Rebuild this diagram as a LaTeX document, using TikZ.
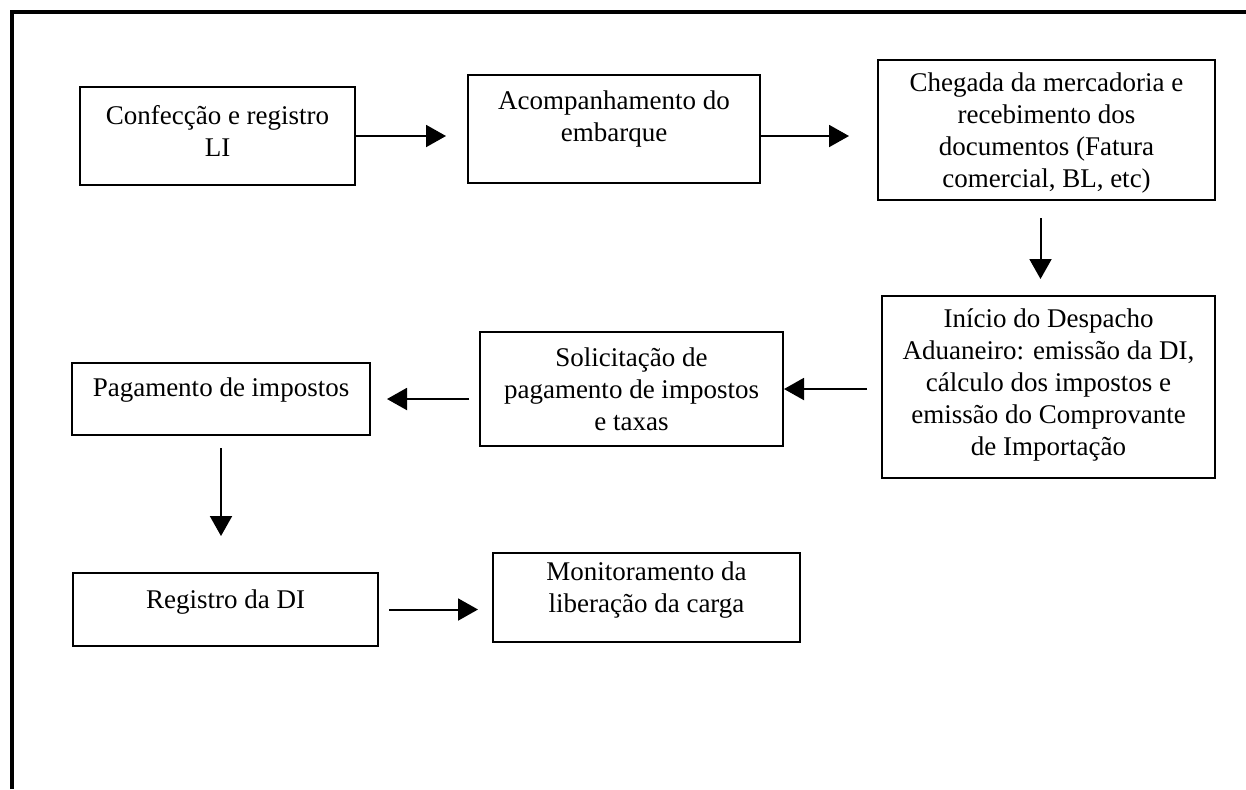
\documentclass[tikz,border=0pt]{standalone}
\usepackage{fontspec}
\setmainfont{Liberation Serif}
\usetikzlibrary{arrows.meta}

\begin{document}
\begin{tikzpicture}[x=0.5pt,y=-0.5pt,
		caixa/.style={draw, line width=1pt, align=center, inner sep=0pt,
			font=\fontsize{13.5}{16}\selectfont},
		seta/.style={-{Triangle[length=10pt,width=11pt]}, line width=1pt}]
		\useasboundingbox (0,0) rectangle (1246,789);
		\draw[line width=1.8pt] (12,789) -- (12,12) -- (1246,12);
		% linha de cima
		\node[caixa, minimum width=137.5pt, minimum height=49pt, text depth=5pt] (conf) at (217.5,136) {Confecção e registro\\LI};
		\node[caixa, minimum width=146pt, minimum height=54pt, text depth=13pt] (acomp) at (614,129) {Acompanhamento do\\embarque};
		\node[caixa, minimum width=168.5pt, minimum height=70pt, text depth=-5pt] (cheg) at (1046.5,130) {Chegada da mercadoria e\\recebimento dos\\documentos (Fatura\\comercial, BL, etc)};
		% linha do meio
		\node[caixa, minimum width=166.5pt, minimum height=91pt, text depth=4.5pt] (inicio) at (1048.5,387) {Início do Despacho\\Aduaneiro: emissão da DI,\\cálculo dos impostos e\\emissão do Comprovante\\de Importação};
		\node[caixa, minimum width=151.5pt, minimum height=57pt] (solic) at (631.5,389) {Solicitação de\\pagamento de impostos\\e taxas};
		\node[caixa, minimum width=149pt, minimum height=36pt, text depth=12pt] (pag) at (221,399) {Pagamento de impostos};
		% linha de baixo
		\node[caixa, minimum width=152.5pt, minimum height=36.5pt, text depth=10pt] (reg) at (225.5,609.5) {Registro da DI};
		\node[caixa, minimum width=153.5pt, minimum height=44.5pt, text depth=10pt] (monit) at (646.5,597.5) {Monitoramento da\\liberação da carga};
		% setas
		\draw[seta, shorten >=10.5pt] (conf.east) -- (conf.east -| acomp.west);
		\draw[seta, shorten >=14pt] (acomp.east |- conf.east) -- (cheg.west |- conf.east);
		\draw[seta, shorten <=8.5pt, shorten >=8pt] ([xshift=-3pt]cheg.south) -- ([xshift=-3pt]cheg.south |- inicio.north);
		\draw[seta, shorten <=7pt] (inicio.west |- solic.east) -- (solic.east);
		\draw[seta, shorten <=5pt, shorten >=8pt] (solic.west |- pag.east) -- (pag.east);
		\draw[seta, shorten <=6pt, shorten >=18pt] (pag.south) -- (pag.south |- reg.north);
		\draw[seta, shorten <=5pt, shorten >=7pt] (reg.east) -- (reg.east -| monit.west);
\end{tikzpicture}
\end{document}
